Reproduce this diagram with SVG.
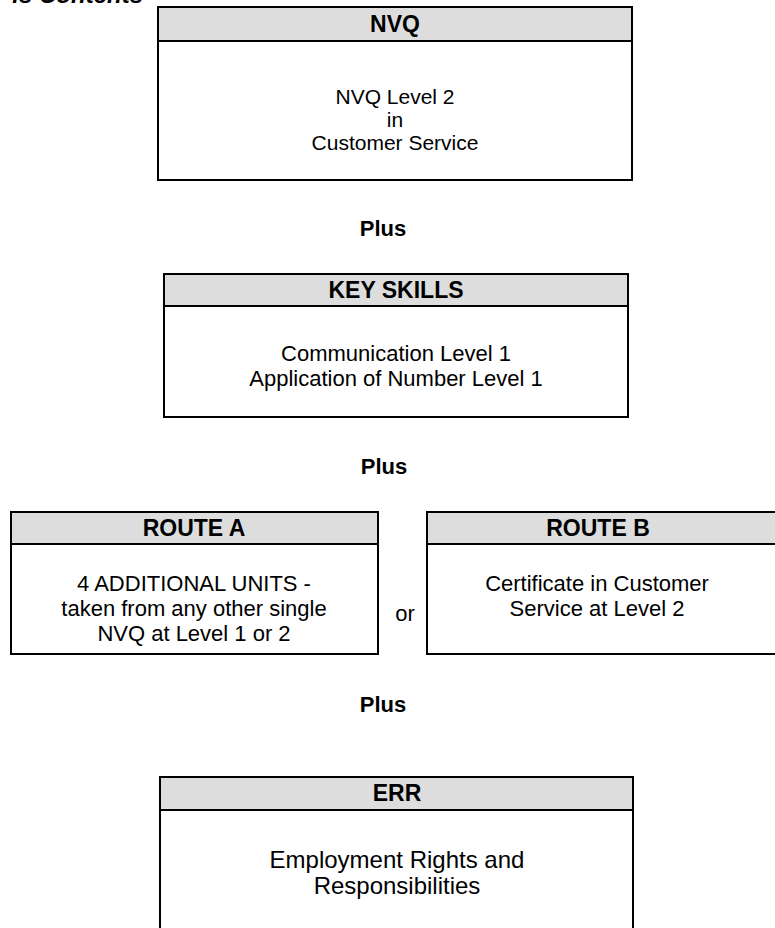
<svg xmlns="http://www.w3.org/2000/svg" width="775" height="928" viewBox="0 0 775 928">
<style>
.box{fill:#ffffff;stroke:#000000;stroke-width:2}
.hdr{fill:#dddddd;stroke:#000000;stroke-width:2}
.h{font-family:"Liberation Sans",Arial,sans-serif;font-weight:bold;font-size:23px;fill:#000;text-anchor:middle}
.n{font-family:"Liberation Sans",Arial,sans-serif;font-size:21px;fill:#000;text-anchor:middle}
.t{font-family:"Liberation Sans",Arial,sans-serif;font-size:22px;fill:#000;text-anchor:middle}
.e{font-family:"Liberation Sans",Arial,sans-serif;font-size:24px;fill:#000;text-anchor:middle}
.p{font-family:"Liberation Sans",Arial,sans-serif;font-weight:bold;font-size:22px;fill:#000;text-anchor:middle}
</style>
<rect width="775" height="928" fill="#ffffff"/>
<text x="143" y="3" font-family="'Liberation Sans',Arial,sans-serif" font-weight="bold" font-style="italic" font-size="24" text-anchor="end">is Contents</text>
<g id="nvq">
<rect class="box" x="158" y="7" width="474" height="173"/>
<rect class="hdr" x="158" y="7" width="474" height="34"/>
<text class="h" x="395" y="32">NVQ</text>
<text class="n" x="395" y="104">NVQ Level 2</text>
<text class="n" x="395" y="127">in</text>
<text class="n" x="395" y="150">Customer Service</text>
</g>
<g id="plus1"><text class="p" x="383" y="236">Plus</text></g>
<g id="keyskills">
<rect class="box" x="164" y="274" width="464" height="143"/>
<rect class="hdr" x="164" y="274" width="464" height="32"/>
<text class="h" x="396" y="298">KEY SKILLS</text>
<text class="t" x="396" y="361">Communication Level 1</text>
<text class="t" x="396" y="386">Application of Number Level 1</text>
</g>
<g id="plus2"><text class="p" x="384" y="474">Plus</text></g>
<g id="routeA">
<rect class="box" x="11" y="512" width="367" height="142"/>
<rect class="hdr" x="11" y="512" width="367" height="32"/>
<text class="h" x="194" y="536">ROUTE A</text>
<text class="t" x="194" y="591">4 ADDITIONAL UNITS -</text>
<text class="t" x="194" y="616">taken from any other single</text>
<text class="t" x="194" y="641">NVQ at Level 1 or 2</text>
</g>
<g id="or"><text class="t" x="405" y="621">or</text></g>
<g id="routeB">
<rect class="box" x="427" y="512" width="370" height="142"/>
<rect class="hdr" x="427" y="512" width="370" height="32"/>
<text class="h" x="598" y="536">ROUTE B</text>
<text class="t" x="597" y="591">Certificate in Customer</text>
<text class="t" x="597" y="616">Service at Level 2</text>
</g>
<g id="plus3"><text class="p" x="383" y="712">Plus</text></g>
<g id="err">
<rect class="box" x="160" y="777" width="473" height="170"/>
<rect class="hdr" x="160" y="777" width="473" height="33"/>
<text class="h" x="397" y="801">ERR</text>
<text class="e" x="397" y="868">Employment Rights and</text>
<text class="e" x="397" y="894">Responsibilities</text>
</g>
<g id="connectors"></g>
</svg>
